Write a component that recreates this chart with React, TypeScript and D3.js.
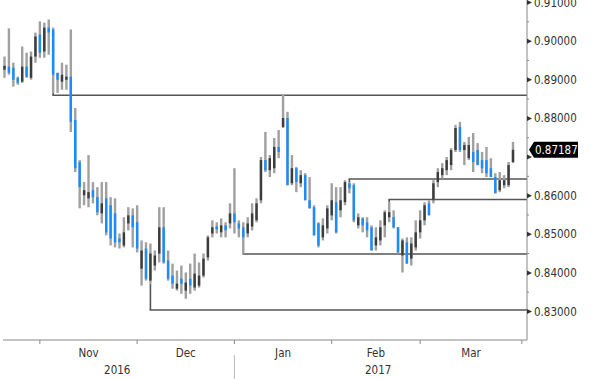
import React from "react";
import * as d3 from "d3";

// OHLC per trading day (index 0 = ~20 Oct 2016, last = ~28 Mar 2017)
const highs = [
  0.8960, 0.9033, 0.8944, 0.8908, 0.8986, 0.8970, 0.8973, 0.9022, 0.9051, 0.9048,
  0.9056, 0.9035, 0.8918, 0.8944, 0.8939, 0.9030, 0.8827, 0.8692, 0.8635, 0.8705,
  0.8635, 0.8622, 0.8635, 0.8635, 0.8596, 0.8593, 0.8502, 0.8544, 0.8570, 0.8567,
  0.8575, 0.8484, 0.8479, 0.8476, 0.8458, 0.8570, 0.8570, 0.8458, 0.8424, 0.8406,
  0.8419, 0.8401, 0.8424, 0.8450, 0.8427, 0.8450, 0.8497, 0.8536, 0.8531, 0.8541,
  0.8531, 0.8580, 0.8671, 0.8536, 0.8531, 0.8544, 0.8580, 0.8593, 0.8700, 0.8765,
  0.8705, 0.8749, 0.8770, 0.8861, 0.8817, 0.8705, 0.8674, 0.8666, 0.8658, 0.8648,
  0.8575, 0.8531, 0.8541, 0.8575, 0.8632, 0.8622, 0.8622, 0.8640, 0.8635, 0.8632,
  0.8554, 0.8544, 0.8544, 0.8523, 0.8518, 0.8536, 0.8562, 0.8583, 0.8562, 0.8518,
  0.8489, 0.8492, 0.8492, 0.8536, 0.8562, 0.8583, 0.8588, 0.8640, 0.8671, 0.8684,
  0.8700, 0.8723, 0.8783, 0.8791, 0.8739, 0.8752, 0.8762, 0.8736, 0.8713, 0.8726,
  0.8697, 0.8658, 0.8661, 0.8653, 0.8687, 0.8739,
];
const lows = [
  0.8905, 0.8913, 0.8882, 0.8887, 0.8892, 0.8905, 0.8900, 0.8944, 0.8957, 0.8957,
  0.8965, 0.8866, 0.8866, 0.8874, 0.8874, 0.8765, 0.8661, 0.8567, 0.8575, 0.8570,
  0.8580, 0.8549, 0.8528, 0.8497, 0.8471, 0.8466, 0.8463, 0.8466, 0.8510, 0.8466,
  0.8453, 0.8367, 0.8380, 0.8372, 0.8406, 0.8427, 0.8424, 0.8380, 0.8359, 0.8354,
  0.8346, 0.8333, 0.8346, 0.8354, 0.8362, 0.8388, 0.8432, 0.8492, 0.8502, 0.8492,
  0.8492, 0.8515, 0.8502, 0.8492, 0.8450, 0.8492, 0.8510, 0.8531, 0.8580, 0.8661,
  0.8648, 0.8658, 0.8697, 0.8775, 0.8627, 0.8627, 0.8609, 0.8622, 0.8588, 0.8567,
  0.8497, 0.8466, 0.8484, 0.8502, 0.8536, 0.8502, 0.8544, 0.8575, 0.8606, 0.8531,
  0.8515, 0.8505, 0.8492, 0.8458, 0.8458, 0.8471, 0.8492, 0.8531, 0.8515, 0.8450,
  0.8401, 0.8424, 0.8419, 0.8458, 0.8489, 0.8523, 0.8549, 0.8580, 0.8622, 0.8645,
  0.8653, 0.8666, 0.8713, 0.8713, 0.8679, 0.8692, 0.8661, 0.8679, 0.8658, 0.8648,
  0.8648, 0.8606, 0.8609, 0.8619, 0.8622, 0.8684,
];
const opens = [
  0.8926, 0.8934, 0.8931, 0.8905, 0.8895, 0.8934, 0.8905, 0.8960, 0.9017, 0.8973,
  0.9035, 0.9030, 0.8918, 0.8895, 0.8900, 0.8908, 0.8796, 0.8687, 0.8601, 0.8593,
  0.8614, 0.8596, 0.8554, 0.8593, 0.8575, 0.8554, 0.8489, 0.8471, 0.8528, 0.8549,
  0.8531, 0.8411, 0.8463, 0.8380, 0.8419, 0.8450, 0.8518, 0.8432, 0.8393, 0.8359,
  0.8385, 0.8354, 0.8385, 0.8362, 0.8367, 0.8393, 0.8440, 0.8502, 0.8520, 0.8505,
  0.8523, 0.8528, 0.8554, 0.8528, 0.8518, 0.8502, 0.8520, 0.8536, 0.8588, 0.8692,
  0.8666, 0.8671, 0.8726, 0.8778, 0.8801, 0.8632, 0.8671, 0.8632, 0.8653, 0.8588,
  0.8570, 0.8528, 0.8492, 0.8515, 0.8549, 0.8583, 0.8562, 0.8583, 0.8632, 0.8627,
  0.8523, 0.8541, 0.8531, 0.8518, 0.8471, 0.8484, 0.8523, 0.8544, 0.8544, 0.8518,
  0.8445, 0.8479, 0.8437, 0.8466, 0.8505, 0.8536, 0.8580, 0.8588, 0.8635, 0.8653,
  0.8666, 0.8679, 0.8718, 0.8778, 0.8718, 0.8697, 0.8713, 0.8718, 0.8692, 0.8692,
  0.8671, 0.8648, 0.8614, 0.8627, 0.8627, 0.8687,
];
const closes = [
  0.8936, 0.8918, 0.8900, 0.8892, 0.8934, 0.8908, 0.8960, 0.9012, 0.8970, 0.9035,
  0.9022, 0.8913, 0.8900, 0.8913, 0.8908, 0.8791, 0.8671, 0.8622, 0.8614, 0.8609,
  0.8596, 0.8557, 0.8580, 0.8505, 0.8489, 0.8479, 0.8479, 0.8505, 0.8549, 0.8518,
  0.8463, 0.8458, 0.8385, 0.8450, 0.8445, 0.8518, 0.8427, 0.8385, 0.8372, 0.8372,
  0.8372, 0.8375, 0.8367, 0.8398, 0.8393, 0.8437, 0.8492, 0.8518, 0.8513, 0.8523,
  0.8510, 0.8554, 0.8531, 0.8515, 0.8492, 0.8528, 0.8554, 0.8580, 0.8692, 0.8666,
  0.8697, 0.8726, 0.8713, 0.8801, 0.8627, 0.8671, 0.8635, 0.8653, 0.8588, 0.8567,
  0.8497, 0.8471, 0.8523, 0.8567, 0.8588, 0.8505, 0.8588, 0.8635, 0.8619, 0.8536,
  0.8544, 0.8523, 0.8510, 0.8458, 0.8492, 0.8518, 0.8557, 0.8557, 0.8518, 0.8453,
  0.8484, 0.8424, 0.8476, 0.8505, 0.8536, 0.8575, 0.8549, 0.8632, 0.8661, 0.8671,
  0.8692, 0.8718, 0.8775, 0.8718, 0.8731, 0.8731, 0.8687, 0.8679, 0.8671, 0.8658,
  0.8648, 0.8606, 0.8640, 0.8640, 0.8679, 0.87187,
];

// Support / resistance levels: [starting candle index, level]
const levelStarts = [11, 33, 54, 78, 87];
const levelValues = [0.886, 0.8304, 0.8449, 0.8643, 0.859];

const priceTicks = [0.83, 0.84, 0.85, 0.86, 0.87, 0.88, 0.89, 0.9, 0.91];
const monthStarts = [8, 30, 52, 74, 94, 117]; // candle index where each month begins
const monthLabels = ["Nov", "Dec", "Jan", "Feb", "Mar"];
const yearLabels = ["2016", "2017"];
const yearStarts = [-1, 52, 117];
const lastPrice = 0.87187;

const W = 600;
const H = 379;
const axisX = 527;
const axisY = 340;
const FONT = "'DejaVu Sans Condensed', 'DejaVu Sans', sans-serif";
const BLUE = "#1a8cff";
const DARK = "#3c3c3c";
const WICK = "#a0a0a0";

export default function App() {
  const x = d3.scaleLinear().domain([0, 115]).range([4.5, 513]);
  const y = d3.scaleLinear().domain([0.83, 0.91]).range([311.5, 2.5]);
  const minor = d3.range(0.835, 0.91, 0.01);
  const bw = 2.4;
  const tagTop = y(lastPrice) - 8;
  const tagBot = y(lastPrice) + 8;

  return (
    <svg
      width={W}
      height={H}
      style={{ position: "absolute", left: 0, top: 0, background: "#fff" }}
      fontFamily={FONT}
    >
      {/* levels */}
      {levelValues.map((lv, k) => {
        const i = levelStarts[k];
        const xi = x(i);
        const from = lv < lows[i] ? y(lows[i]) : y(highs[i]);
        return (
          <g key={"lv" + k} stroke="#555" strokeWidth={1.6} fill="none">
            <line x1={xi} x2={xi} y1={from} y2={y(lv)} />
            <line x1={xi - 0.8} x2={axisX} y1={y(lv)} y2={y(lv)} />
          </g>
        );
      })}

      {/* candles */}
      {closes.map((c, i) => {
        const o = opens[i];
        const up = c >= o;
        const xi = x(i);
        const top = y(Math.max(o, c));
        const bot = y(Math.min(o, c));
        return (
          <g key={"c" + i}>
            <rect x={xi - bw / 2} width={bw} y={y(highs[i])} height={Math.max(1, y(lows[i]) - y(highs[i]))} fill={WICK} />
            <rect x={xi - bw / 2} width={bw} y={top} height={Math.max(1.2, bot - top)} fill={up ? DARK : BLUE} />
          </g>
        );
      })}

      {/* right axis */}
      <line x1={axisX} x2={axisX} y1={0} y2={axisY} stroke="#888" strokeWidth={1} />
      {minor.map((m) => (
        <line key={"m" + m} x1={axisX} x2={axisX + 2} y1={y(m)} y2={y(m)} stroke="#888" />
      ))}
      {priceTicks.map((t) => {
        const hidden = y(t) > tagTop - 4 && y(t) < tagBot + 4;
        return (
          <g key={"t" + t}>
            <path d={`M${axisX},${y(t) - 2.5}L${axisX + 5},${y(t)}L${axisX},${y(t) + 2.5}Z`} fill="#333" />
            {!hidden && (
              <text x={axisX + 7} y={y(t) + 4} fontSize={11.5} fill="#333">
                {d3.format(".5f")(t)}
              </text>
            )}
          </g>
        );
      })}

      {/* last price tag */}
      <path
        d={`M${axisX + 2},${y(lastPrice)}L${axisX + 7},${tagTop}L578,${tagTop}L578,${tagBot}L${axisX + 7},${tagBot}Z`}
        fill="#000"
      />
      <text x={axisX + 8} y={y(lastPrice) + 4} fontSize={11.5} fill="#fff">
        {d3.format(".5f")(lastPrice)}
      </text>

      {/* bottom axis */}
      <line x1={3} x2={axisX} y1={axisY} y2={axisY} stroke="#888" />
      {monthStarts.map((m) => (
        <line key={"ms" + m} x1={x(m)} x2={x(m)} y1={axisY} y2={axisY + 4} stroke="#888" />
      ))}
      {monthLabels.map((lab, k) => (
        <text
          key={lab}
          x={(x(monthStarts[k]) + x(monthStarts[k + 1])) / 2}
          y={357}
          fontSize={11.5}
          fill="#333"
          textAnchor="middle"
        >
          {lab}
        </text>
      ))}
      {yearLabels.map((lab, k) => (
        <text
          key={lab}
          x={(Math.max(0, x(yearStarts[k])) + x(yearStarts[k + 1])) / 2}
          y={374}
          fontSize={11.5}
          fill="#333"
          textAnchor="middle"
        >
          {lab}
        </text>
      ))}
      <line x1={x(52)} x2={x(52)} y1={355} y2={379} stroke="#bbb" />
    </svg>
  );
}
